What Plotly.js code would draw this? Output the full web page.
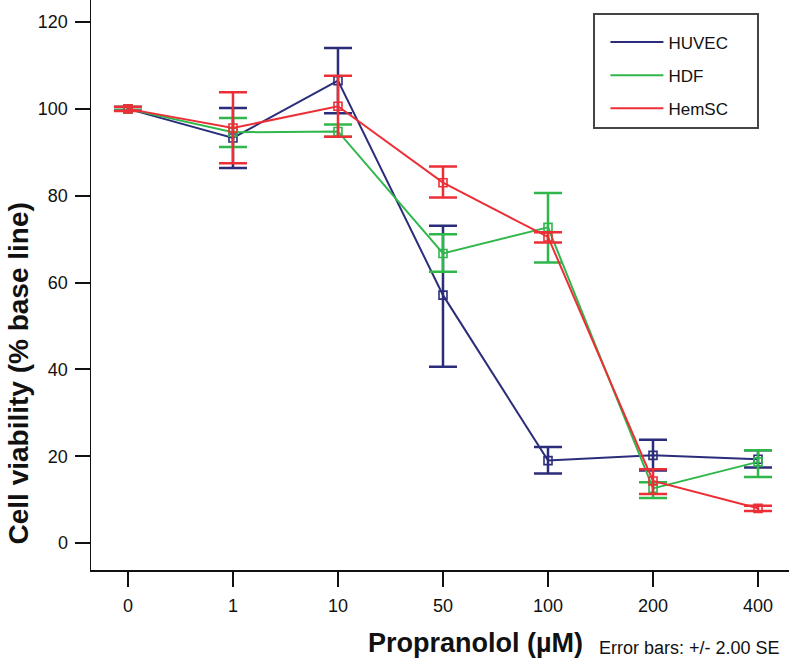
<!DOCTYPE html>
<html>
<head>
<meta charset="utf-8">
<script src="https://cdn.plot.ly/plotly-3.0.1.min.js"></script>
<style>html,body{margin:0;padding:0;background:#fff;}#chart{width:789px;height:664px;}</style>
</head>
<body>
<div id="chart"></div>
<script>
// Categories (Propranolol concentration, µM)
const doses = ['0', '1', '10', '50', '100', '200', '400'];

// HUVEC mean and error-bar ends (% base line)
const huvec   = [100, 93.3, 106.5, 57.1, 19.0, 20.2, 19.3];
const huvecHi = [100.4, 100.2, 114.0, 73.1, 22.1, 23.8, 21.4];
const huvecLo = [99.6, 86.4, 99.0, 40.6, 16.0, 16.7, 17.4];

// HDF
const hdf   = [100, 94.6, 94.8, 66.7, 72.7, 12.6, 18.7];
const hdfHi = [100.4, 97.9, 96.4, 71.1, 80.6, 14.0, 21.4];
const hdfLo = [99.6, 91.2, 93.6, 62.5, 64.6, 10.4, 15.2];

// HemSC
const hemsc   = [100, 95.6, 100.6, 83.0, 70.5, 14.3, 8.0];
const hemscHi = [100.5, 103.8, 107.6, 86.7, 71.6, 17.0, 8.6];
const hemscLo = [99.5, 87.5, 93.6, 79.6, 69.2, 11.3, 7.4];

const seriesNames = ['HUVEC', 'HDF', 'HemSC'];
const colors = ['#2b2d7a', '#2fb74c', '#ec2f37'];

const FONT = 'Liberation Sans, Arial, sans-serif';
const series = [
  {y: huvec, hi: huvecHi, lo: huvecLo},
  {y: hdf, hi: hdfHi, lo: hdfLo},
  {y: hemsc, hi: hemscHi, lo: hemscLo}
];

const traces = [];
series.forEach((s, i) => {
  traces.push({
    type: 'scatter', mode: 'lines', x: doses, y: s.y,
    name: seriesNames[i], legendgroup: seriesNames[i],
    line: {color: colors[i], width: 2},
    error_y: {
      type: 'data', symmetric: false,
      array: s.hi.map((v, k) => v - s.y[k]),
      arrayminus: s.y.map((v, k) => v - s.lo[k]),
      color: colors[i], thickness: 2.5, width: 14
    },
    hoverinfo: 'x+y'
  });
  traces.push({
    type: 'scatter', mode: 'markers', x: doses, y: s.y,
    name: seriesNames[i], legendgroup: seriesNames[i], showlegend: false,
    marker: {symbol: 'square-open', size: 8, color: colors[i], line: {width: 1.6, color: colors[i]}},
    hoverinfo: 'skip'
  });
});

const layout = {
  width: 789, height: 664,
  margin: {l: 91, r: 0, t: 0, b: 94},
  paper_bgcolor: '#ffffff', plot_bgcolor: '#ffffff',
  font: {family: FONT, color: '#111', size: 17},
  showlegend: true,
  legend: {
    x: 0.737, y: 0.957, xanchor: 'left', yanchor: 'top',
    bgcolor: 'rgba(0,0,0,0)', borderwidth: 0,
    font: {family: FONT, size: 17, color: '#111'},
    tracegroupgap: 8, itemwidth: 53
  },
  xaxis: {
    type: 'category', categoryorder: 'array', categoryarray: doses,
    range: [-0.352, 6.295],
    showline: true, linecolor: '#111', linewidth: 1.5,
    ticks: 'outside', ticklen: 15, tickwidth: 2, tickcolor: '#111',
    ticklabelstandoff: 4,
    showgrid: false, zeroline: false,
    tickfont: {family: FONT, size: 18, color: '#111'}
  },
  yaxis: {
    range: [-6.2, 125.07],
    tickvals: [0, 20, 40, 60, 80, 100, 120],
    showline: true, linecolor: '#111', linewidth: 1.5,
    ticks: 'outside', ticklen: 15, tickwidth: 2, tickcolor: '#111',
    ticklabelstandoff: 3,
    showgrid: false, zeroline: false,
    tickfont: {family: FONT, size: 18, color: '#111'}
  },
  shapes: [{
    type: 'rect', xref: 'paper', yref: 'paper',
    x0: (594 - 91) / 698, x1: (758 - 91) / 698,
    y0: 1 - 128 / 570, y1: 1 - 14 / 570,
    line: {color: '#444', width: 2}, fillcolor: 'rgba(0,0,0,0)'
  }],
  annotations: [
    {
      text: '<b>Cell viability (% base line)</b>', textangle: -90,
      xref: 'paper', yref: 'paper', x: (17.5 - 91) / 698, y: (570 - 374) / 570,
      xanchor: 'center', yanchor: 'middle', showarrow: false,
      font: {family: FONT, size: 28, color: '#111'}
    },
    {
      text: '<b>Propranolol (µM)</b>',
      xref: 'paper', yref: 'paper', x: (366 - 91) / 698, y: (570 - 643) / 570,
      xanchor: 'left', yanchor: 'middle', showarrow: false,
      font: {family: FONT, size: 27, color: '#111'}
    },
    {
      text: 'Error bars: +/- 2.00 SE',
      xref: 'paper', yref: 'paper', x: (597 - 91) / 698, y: (570 - 648) / 570,
      xanchor: 'left', yanchor: 'middle', showarrow: false,
      font: {family: FONT, size: 18, color: '#111'}
    }
  ]
};

Plotly.newPlot('chart', traces, layout, {displayModeBar: false, staticPlot: true});
</script>
</body>
</html>
